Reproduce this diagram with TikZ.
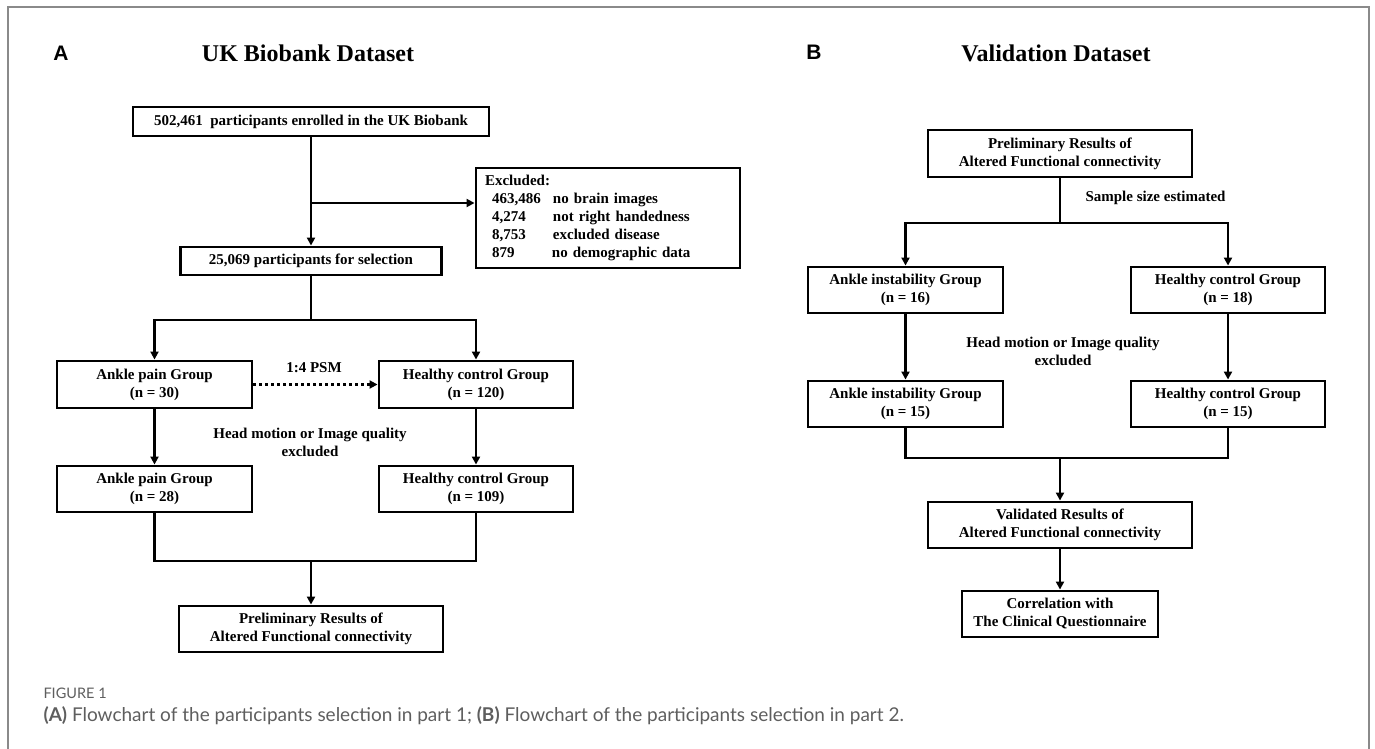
\documentclass[tikz,border=0pt]{standalone}
\usepackage{fontspec}
\setmainfont{Liberation Serif}
\newfontfamily\panelfont{Liberation Sans}
\newfontfamily\capfont{Lato}
\usetikzlibrary{arrows.meta}
\definecolor{framegray}{HTML}{8A8A8A}
\definecolor{capgray}{HTML}{5E5E5E}

\begin{document}
\begin{tikzpicture}[x=1pt,y=-1pt,
    box/.style={draw,line width=2.9pt,align=center,inner sep=0pt,
      font=\fontsize{15}{18}\selectfont\bfseries},
    note/.style={align=center,font=\fontsize{15}{18}\selectfont\bfseries},
    link/.style={line width=2.8pt},
    arr/.style={link,-{Triangle[length=8pt,width=8pt]}},
    psm/.style={arr,dash pattern=on 3pt off 3pt},
    heading/.style={font=\fontsize{24}{28}\selectfont\bfseries},
    panel/.style={font=\panelfont\fontsize{21}{24}\selectfont\bfseries}]
  % Fix the size of the picture
  \useasboundingbox (0,0) rectangle (1375,749);
  % Grey frame round the figure
  \draw[framegray,line width=1.5pt] (8,749) -- (8,7) -- (1369,7) -- (1369,749);

  % Panel A: UK Biobank dataset
  \node[panel] (labA) at (61,53) {A};
  \node[heading] (titleA) at (308,53) {UK Biobank Dataset};

  \node[box,minimum width=356pt,minimum height=29pt] (enrol) at (311,121.5)
    {502,461\ \ participants enrolled in the UK Biobank};
  \node[box,minimum width=264pt,minimum height=100pt,text width=246pt,
    inner xsep=9pt,align=left] (excl) at (608,218)
    {Excluded:\\
     \hspace*{7pt}\makebox[61pt][l]{463,486}no brain images\\
     \hspace*{7pt}\makebox[61pt][l]{4,274}not right handedness\\
     \hspace*{7pt}\makebox[61pt][l]{8,753}excluded disease\\
     \hspace*{7pt}\makebox[60pt][l]{879}no demographic data};
  \node[box,minimum width=261pt,minimum height=28pt] (select) at (311,261)
    {25,069 participants for selection};

  \node[box,minimum width=195pt,minimum height=47pt] (painPre) at (154.5,384.5)
    {Ankle pain Group\\(n = 30)};
  \node[box,minimum width=194pt,minimum height=47pt] (ctrlPre) at (476,384.5)
    {Healthy control Group\\(n = 120)};
  \node[box,minimum width=195pt,minimum height=46pt] (painPost) at (154.5,489)
    {Ankle pain Group\\(n = 28)};
  \node[box,minimum width=194pt,minimum height=46pt] (ctrlPost) at (476,489)
    {Healthy control Group\\(n = 109)};
  \node[box,minimum width=264pt,minimum height=46pt] (prelimA) at (311,629)
    {Preliminary Results of\\Altered Functional connectivity};

  \node[note] (psmLab) at (314,368) {1:4 PSM};
  \node[note] (headA) at (310,442) {Head motion or Image quality\\excluded};

  % Connectors of panel A
  \coordinate (splitA) at (311,203);
  \coordinate (forkA) at (311,320);
  \coordinate (joinA) at (311,561);
  \draw[arr] (enrol.south) -- (enrol.south |- select.north);
  \draw[arr] (splitA) -- (splitA -| excl.west);
  \draw[link] (select.south) -- (forkA);
  \draw[arr] (forkA) -| (painPre);
  \draw[arr] (forkA) -| (ctrlPre);
  \draw[psm] (painPre) -- (ctrlPre);
  \draw[arr] (painPre) -- (painPost);
  \draw[arr] (ctrlPre) -- (ctrlPost);
  \draw[link] (painPost) |- (joinA) -| (ctrlPost);
  \draw[arr] (joinA) -- (prelimA);

  % Panel B: validation dataset
  \node[panel] (labB) at (814,52) {B};
  \node[heading] (titleB) at (1056,53) {Validation Dataset};

  \node[box,minimum width=264pt,minimum height=47pt] (prelimB) at (1060,153.5)
    {Preliminary Results of\\Altered Functional connectivity};
  \node[note,anchor=west] (sampleLab) at (1082,198) {Sample size estimated};

  \node[box,minimum width=195pt,minimum height=46pt] (instPre) at (905.5,290)
    {Ankle instability Group\\(n = 16)};
  \node[box,minimum width=194pt,minimum height=46pt] (ctrlPreB) at (1228,290)
    {Healthy control Group\\(n = 18)};
  \node[box,minimum width=195pt,minimum height=46pt] (instPost) at (905.5,404)
    {Ankle instability Group\\(n = 15)};
  \node[box,minimum width=194pt,minimum height=46pt] (ctrlPostB) at (1228,404)
    {Healthy control Group\\(n = 15)};
  \node[note] (headB) at (1063,351) {Head motion or Image quality\\excluded};

  \node[box,minimum width=264pt,minimum height=46pt] (valid) at (1060,525)
    {Validated Results of\\Altered Functional connectivity};
  \node[box,minimum width=196pt,minimum height=46pt] (corr) at (1060,614)
    {Correlation with\\The Clinical Questionnaire};

  % Connectors of panel B
  \coordinate (forkB) at (1060,223);
  \coordinate (joinB) at (1060,458);
  \draw[link] (prelimB) -- (forkB);
  \draw[arr] (forkB) -| (instPre);
  \draw[arr] (forkB) -| (ctrlPreB);
  \draw[arr] (instPre) -- (instPost);
  \draw[arr] (ctrlPreB) -- (ctrlPostB);
  \draw[link] (instPost) |- (joinB) -| (ctrlPostB);
  \draw[arr] (joinB) -- (valid);
  \draw[arr] (valid) -- (corr);

  % Caption
  \node[anchor=west,text=capgray,font=\capfont\fontsize{14.5}{18}\selectfont] (figNo)
    at (40,693) {FIGURE 1};
  \node[anchor=west,text=capgray,font=\capfont\fontsize{19}{22}\selectfont] (caption)
    at (40,716) {\textbf{(A)} Flowchart of the participants selection in part 1;
    \textbf{(B)} Flowchart of the participants selection in part 2.};
\end{tikzpicture}
\end{document}
